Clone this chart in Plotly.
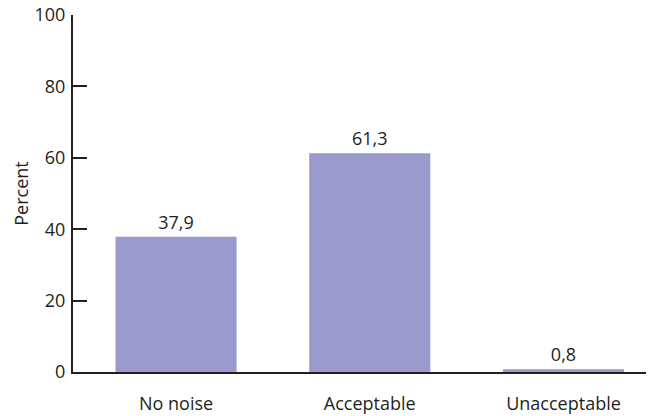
import plotly.graph_objects as go

categories = ["No noise", "Acceptable", "Unacceptable"]
values = [37.9, 61.3, 0.8]
y_ticks = [0, 20, 40, 60, 80, 100]

text_color = "#231f20"
bar_color = "#9999cc"
font_family = "Open Sans, Noto Sans, sans-serif"
fs = 18

fig = go.Figure(
    go.Bar(
        x=list(range(len(categories))),
        y=values,
        width=0.625,
        marker=dict(color=bar_color, line=dict(width=0)),
        texttemplate="%{y:.1f}",
        textposition="outside",
        textfont=dict(size=fs, color=text_color, family=font_family),
        cliponaxis=False,
    )
)

fig.update_layout(
    width=648,
    height=416,
    margin=dict(l=73, r=2, t=15, b=44),
    paper_bgcolor="white",
    plot_bgcolor="white",
    separators=", ",
    showlegend=False,
    font=dict(family=font_family, size=fs, color=text_color),
    xaxis=dict(
        range=[-0.532, 2.426],
        tickvals=list(range(len(categories))),
        ticktext=categories,
        showgrid=False,
        zeroline=False,
        showline=True,
        linecolor=text_color,
        linewidth=2,
        ticks="",
        ticklabelstandoff=14,
        automargin=False,
        tickfont=dict(size=fs, color=text_color),
    ),
    yaxis=dict(
        range=[0, 100],
        tickvals=y_ticks,
        showgrid=False,
        zeroline=False,
        showline=True,
        linecolor=text_color,
        linewidth=2,
        ticks="inside",
        ticklen=14,
        tickwidth=2,
        tickcolor=text_color,
        ticklabelstandoff=2,
        automargin=False,
        tickfont=dict(size=fs, color=text_color),
        title=dict(text="Percent", font=dict(size=fs, color=text_color), standoff=1),
    ),
)

fig.write_html("out.html")
